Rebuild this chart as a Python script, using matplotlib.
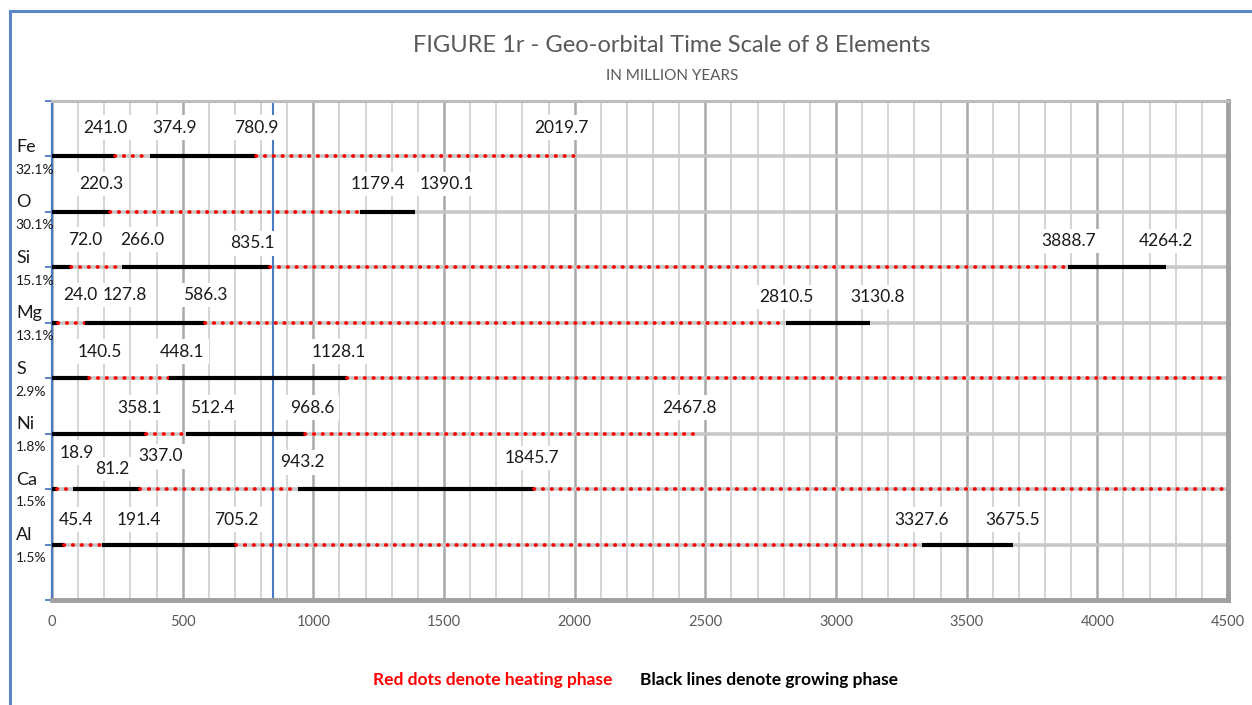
import numpy as np
import matplotlib
matplotlib.use("Agg")
import matplotlib.pyplot as plt
from matplotlib.lines import Line2D

plt.rcParams['font.family'] = ['Lato', 'DejaVu Sans']

# ---- data ----
elements = ["Fe", "O", "Si", "Mg", "S", "Ni", "Ca", "Al"]
abundance = ["32.1%", "30.1%", "15.1%", "13.1%", "2.9%", "1.8%", "1.5%", "1.5%"]

# phase boundaries (million years); phases alternate growing / heating from 0
fe_bounds = [241.0, 374.9, 780.9, 2019.7]
o_bounds = [220.3, 1179.4, 1390.1]
si_bounds = [72.0, 266.0, 835.1, 3888.7, 4264.2]
mg_bounds = [24.0, 127.8, 586.3, 2810.5, 3130.8]
s_bounds = [140.5, 448.1, 1128.1]
ni_bounds = [358.1, 512.4, 968.6, 2467.8]
ca_bounds = [18.9, 81.2, 337.0, 943.2, 1845.7]
al_bounds = [45.4, 191.4, 705.2, 3327.6, 3675.5]
bounds = [fe_bounds, o_bounds, si_bounds, mg_bounds,
          s_bounds, ni_bounds, ca_bounds, al_bounds]

# heating phase carries on past the end of the axis for these
open_ended = ["S", "Ca"]

x_max = 4500
blue_marker = 846

# ---- label layout nudges (data units, row units) ----
label_dx = [[-38, 96, 0, -69],
            [-31, 69, 122],
            [57, 78, -69, 0, 0],
            [84, 149, 0, 0, 27],
            [42, 50, -31],
            [-23, 100, 27, -27],
            [77, 149, 77, 15, -11],
            [46, 142, 0, 0, 0]]
label_dy = [[0.52] * 4,
            [0.50] * 3,
            [0.50, 0.50, 0.43, 0.47, 0.47],
            [0.50, 0.50, 0.50, 0.47, 0.47],
            [0.48] * 3,
            [0.47] * 4,
            [0.66, 0.36, 0.59, 0.48, 0.56],
            [0.45] * 5]

W, H = 1252, 705
fig = plt.figure(figsize=(W / 100, H / 100), dpi=100)
ax = fig.add_axes([52 / W, 1 - 600 / H, (1228 - 52) / W, (600 - 101) / H])

ax.set_xlim(0, x_max)
ax.set_ylim(9, 0)

# grid
ax.set_xticks(np.arange(0, x_max + 1, 500))
ax.set_xticks(np.arange(0, x_max + 1, 100), minor=True)
ax.set_yticks(np.arange(0, 10))
ax.set_yticklabels([])
ax.grid(which='minor', axis='x', color='#d2d2d2', lw=1.3, zorder=0)
ax.grid(which='major', axis='x', color='#a8a8a8', lw=1.8, zorder=0)
ax.grid(which='major', axis='y', color='#c8c8c8', lw=2.6, zorder=0)
ax.set_axisbelow(True)

ax.tick_params(axis='x', which='both', length=0, pad=11,
               labelsize=10.5, labelcolor='#595959')
ax.tick_params(axis='y', direction='out', length=5, width=1.3,
               color='#4a7cc4')

ax.spines['left'].set_color('#4a7cc4')
ax.spines['left'].set_linewidth(1.6)
ax.spines['top'].set_color('#bdbdbd')
ax.spines['top'].set_linewidth(2.2)
ax.spines['right'].set_color('#a0a0a0')
ax.spines['right'].set_linewidth(3.5)
ax.spines['bottom'].set_color('#a0a0a0')
ax.spines['bottom'].set_linewidth(3.5)

ax.axvline(blue_marker, color='#4a7cc4', lw=1.5, zorder=2)

ytr = ax.get_yaxis_transform()
for i, name in enumerate(elements):
    row = i + 1
    pts = [0] + bounds[i]
    if name in open_ended:
        pts = pts + [x_max]
    for k in range(len(pts) - 1):
        a, b = pts[k], pts[k + 1]
        if k % 2 == 0:
            ax.plot([a, b], [row, row], color='black', lw=3.0,
                    solid_capstyle='butt', zorder=5)
        else:
            ax.plot([a, b], [row, row], color='#ff0000', lw=2.7,
                    linestyle=(0, (0.1, 2.25)), dash_capstyle='round',
                    zorder=5)
    for k, v in enumerate(bounds[i]):
        ax.text(v + label_dx[i][k], row - label_dy[i][k], f"{v:.1f}",
                ha='center', va='center', fontsize=12.5, color='#1a1a1a',
                bbox=dict(facecolor='white', edgecolor='none', pad=3),
                zorder=3)
    ax.text(-0.0305, row - 0.17, name, transform=ytr, ha='left', va='center',
            fontsize=13, color='#1a1a1a')
    ax.text(-0.031, row + 0.24, abundance[i], transform=ytr, ha='left',
            va='center', fontsize=10, color='#1a1a1a')

# titles and legend text
fig.text(672 / W, 1 - 46 / H, "FIGURE 1r - Geo-orbital Time Scale of 8 Elements",
         ha='center', va='center', fontsize=17, color='#595959')
fig.text(672 / W, 1 - 76 / H, "IN MILLION YEARS",
         ha='center', va='center', fontsize=11, color='#595959')
fig.text(493 / W, 1 - 680 / H, "Red dots denote heating phase",
         ha='center', va='center', fontsize=12.5, fontweight='bold', color='#ff0000')
fig.text(769 / W, 1 - 680 / H, "Black lines denote growing phase",
         ha='center', va='center', fontsize=12.5, fontweight='bold', color='black')

# outer frame
frame_c = '#5b87c5'
fig.add_artist(Line2D([10 / W, 10 / W], [0, 1 - 11 / H],
                      transform=fig.transFigure, color=frame_c, lw=2.2))
fig.add_artist(Line2D([10 / W, 1], [1 - 11 / H, 1 - 11 / H],
                      transform=fig.transFigure, color=frame_c, lw=2.2))

fig.savefig("out.png", dpi=100)
